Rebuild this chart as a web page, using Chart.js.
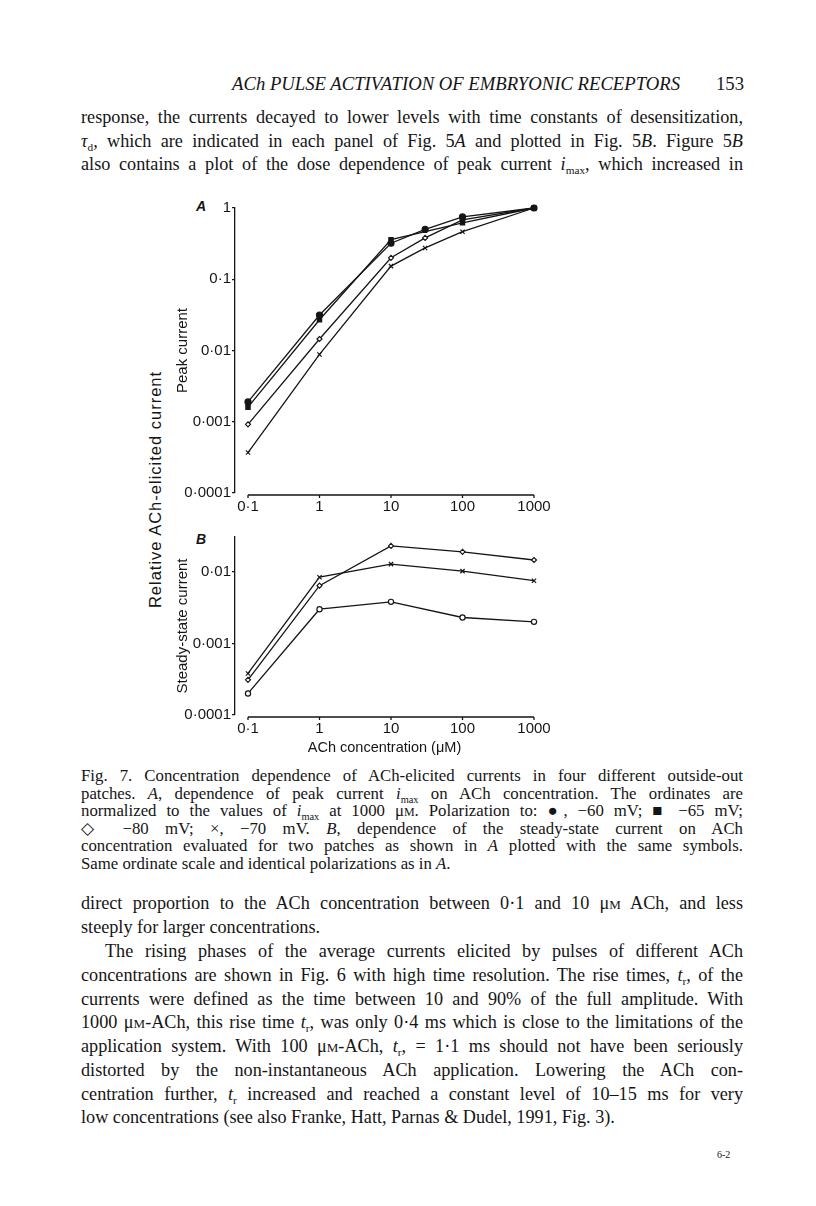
<!DOCTYPE html>
<html>
<head>
<meta charset="utf-8">
<script src="https://cdn.jsdelivr.net/npm/chart.js@4.4.0/dist/chart.umd.min.js"></script>
<style>
  body { margin: 0; background: #fff; }
  #page { position: relative; width: 816px; height: 1206px; overflow: hidden; font-family: "Liberation Serif", serif; color: #151515; }
  .ln { position: absolute; left: 81px; width: 662px; font-size: 18.2px; line-height: 20px; text-align: justify; text-align-last: justify; }
  .cap { font-size: 16.8px; line-height: 18px; }
  .left { text-align-last: left; }
  .ind { left: 105px; width: 638px; }
  sub { font-size: 0.62em; vertical-align: -0.35em; line-height: 0; }
  .sc { font-variant: small-caps; }
  .hd { position: absolute; top: 73px; font-style: italic; font-size: 18.7px; }
  .rot { position: absolute; width: 320px; text-align: center; font-family: "Liberation Sans", sans-serif; font-size: 16.5px; letter-spacing: 1px; transform: rotate(-90deg); white-space: nowrap; }
  .pl { position: absolute; font-family: "Liberation Sans", sans-serif; font-style: italic; font-size: 14px; font-weight: bold; }
  canvas { position: absolute; }
</style>
</head>
<body>
<div id="page">
  <div class="hd" style="left:232px">ACh PULSE ACTIVATION OF EMBRYONIC RECEPTORS</div>
  <div class="hd" style="left:716px;font-style:normal">153</div>

  <div class="ln" style="top:107px">response, the currents decayed to lower levels with time constants of desensitization,</div>
  <div class="ln" style="top:131px"><i>τ</i><sub>d</sub>, which are indicated in each panel of Fig. 5<i>A</i> and plotted in Fig. 5<i>B</i>. Figure 5<i>B</i></div>
  <div class="ln" style="top:154px">also contains a plot of the dose dependence of peak current <i>i</i><sub>max</sub>, which increased in</div>

  <div class="rot" style="left:-5px;top:480px">Relative ACh-elicited current</div>
  <div class="pl" style="left:196px;top:198px">A</div>
  <div class="pl" style="left:196px;top:531px">B</div>

  <canvas id="chartA" width="380" height="328" style="left:170px;top:195px"></canvas>
  <canvas id="chartB" width="380" height="231" style="left:170px;top:529px"></canvas>

  <div class="ln cap" style="top:767px">Fig. 7. Concentration dependence of ACh-elicited currents in four different outside-out</div>
  <div class="ln cap" style="top:785px">patches. <i>A</i>, dependence of peak current <i>i</i><sub>max</sub> on ACh concentration. The ordinates are</div>
  <div class="ln cap" style="top:802px">normalized to the values of <i>i</i><sub>max</sub> at 1000 μ<span class="sc">m</span>. Polarization to: ●, −60 mV; ■ −65 mV;</div>
  <div class="ln cap" style="top:820px">◇ −80 mV; ×, −70 mV. <i>B</i>, dependence of the steady-state current on ACh</div>
  <div class="ln cap" style="top:837px">concentration evaluated for two patches as shown in <i>A</i> plotted with the same symbols.</div>
  <div class="ln cap left" style="top:855px">Same ordinate scale and identical polarizations as in <i>A</i>.</div>

  <div class="ln" style="top:893px">direct proportion to the ACh concentration between 0·1 and 10 μ<span class="sc">m</span> ACh, and less</div>
  <div class="ln left" style="top:917px">steeply for larger concentrations.</div>
  <div class="ln ind" style="top:941px">The rising phases of the average currents elicited by pulses of different ACh</div>
  <div class="ln" style="top:965px">concentrations are shown in Fig. 6 with high time resolution. The rise times, <i>t</i><sub>r</sub>, of the</div>
  <div class="ln" style="top:989px">currents were defined as the time between 10 and 90% of the full amplitude. With</div>
  <div class="ln" style="top:1012px">1000 μ<span class="sc">m</span>-ACh, this rise time <i>t</i><sub>r</sub>, was only 0·4 ms which is close to the limitations of the</div>
  <div class="ln" style="top:1036px">application system. With 100 μ<span class="sc">m</span>-ACh, <i>t</i><sub>r</sub>, = 1·1 ms should not have been seriously</div>
  <div class="ln" style="top:1060px">distorted by the non-instantaneous ACh application. Lowering the ACh con-</div>
  <div class="ln" style="top:1084px">centration further, <i>t</i><sub>r</sub> increased and reached a constant level of 10–15 ms for very</div>
  <div class="ln left" style="top:1107px">low concentrations (see also Franke, Hatt, Parnas &amp; Dudel, 1991, Fig. 3).</div>
  <div style="position:absolute;left:717px;top:1149px;font-size:10px">6-2</div>
</div>

<script>
// concentrations (µM) and tick labels
var concA = [0.1, 1, 10, 30, 100, 1000];
var concB = [0.1, 1, 10, 100, 1000];
var xTicks = [0.1, 1, 10, 100, 1000];
var xTickLabels = ['0·1', '1', '10', '100', '1000'];
var yTicksA = [0.0001, 0.001, 0.01, 0.1, 1];
var yTickLabelsA = ['0·0001', '0·001', '0·01', '0·1', '1'];
var yTicksB = [0.0001, 0.001, 0.01];
var yTickLabelsB = ['0·0001', '0·001', '0·01'];

// A: peak current, normalized to 1000 µM
var peak60 = [0.0019, 0.0315, 0.32, 0.5, 0.75, 1];
var peak65 = [0.0016, 0.027, 0.36, null, 0.62, 1];
var peak80 = [0.00092, 0.0145, 0.2, 0.38, 0.68, 1];
var peak70 = [0.00037, 0.0088, 0.153, 0.275, 0.465, 1];

// B: steady-state current
var steady80 = [0.00031, 0.0064, 0.023, 0.019, 0.0146];
var steady70 = [0.00038, 0.0084, 0.0128, 0.0102, 0.0075];
var steadyO = [0.0002, 0.003, 0.0038, 0.0023, 0.002];

Chart.defaults.font.family = 'Liberation Sans';
Chart.defaults.font.size = 15;
Chart.defaults.color = '#151515';

function pts(xs, ys) {
  return xs.map(function (x, i) { return { x: x, y: ys[i] }; });
}

function series(label, xs, ys, style, filled, r) {
  return {
    label: label,
    data: pts(xs, ys),
    borderColor: '#151515',
    borderWidth: 1.3,
    pointStyle: style,
    pointRadius: r,
    pointBorderWidth: 1.2,
    pointBackgroundColor: filled ? '#151515' : '#fff',
    pointBorderColor: '#151515',
    spanGaps: true,
    clip: false
  };
}

// x axis line only spans 0.1 .. 1000, detached from the y axis
var xAxisLine = {
  id: 'xAxisLine',
  afterDraw: function (chart) {
    var x = chart.scales.x;
    var y0 = chart.chartArea.bottom + 2;
    var c = chart.ctx;
    c.save();
    c.strokeStyle = '#151515';
    c.lineWidth = 1.3;
    c.beginPath();
    c.moveTo(x.getPixelForValue(xTicks[0]), y0);
    c.lineTo(x.getPixelForValue(xTicks[xTicks.length - 1]), y0);
    xTicks.forEach(function (v) {
      var p = x.getPixelForValue(v);
      c.moveTo(p, y0);
      c.lineTo(p, y0 + 3);
    });
    c.stroke();
    c.restore();
  }
};

function makeOptions(yMin, yMax, yTicks, yLabels, yTitle, xTitle, xHeight, padTop) {
  return {
    responsive: false,
    animation: false,
    layout: { padding: { left: 0, right: 16, top: padTop, bottom: 0 } },
    plugins: { legend: { display: false }, tooltip: { enabled: false } },
    scales: {
      x: {
        type: 'logarithmic',
        min: 0.0658,
        max: 1000,
        afterBuildTicks: function (s) { s.ticks = xTicks.map(function (v) { return { value: v }; }); },
        afterFit: function (s) { s.height = xHeight; s.paddingLeft = 0; s.paddingRight = 0; },
        ticks: {
          padding: 5,
          maxRotation: 0,
          autoSkip: false,
          callback: function (v) { return xTickLabels[xTicks.indexOf(v)]; }
        },
        grid: { display: false, drawTicks: false, tickLength: 0 },
        border: { display: false },
        title: { display: !!xTitle, text: xTitle || '', font: { size: 14.5 }, padding: { top: 0, bottom: 3 } }
      },
      y: {
        type: 'logarithmic',
        min: yMin,
        max: yMax,
        afterBuildTicks: function (s) { s.ticks = yTicks.map(function (v) { return { value: v }; }); },
        afterFit: function (s) { s.width = 65; s.paddingTop = 0; s.paddingBottom = 0; },
        ticks: {
          padding: 1,
          autoSkip: false,
          callback: function (v) { return yLabels[yTicks.indexOf(v)]; }
        },
        grid: { display: true, drawOnChartArea: false, tickLength: 3, color: '#151515', lineWidth: 1.2 },
        border: { display: true, color: '#151515', width: 1.3 },
        title: { display: true, text: yTitle, font: { size: 15 }, padding: { top: 4, bottom: 4 } }
      }
    }
  };
}

new Chart(document.getElementById('chartA').getContext('2d'), {
  type: 'line',
  data: {
    datasets: [
      series('−60 mV', concA, peak60, 'circle', true, 3),
      series('−65 mV', concA, peak65, 'rect', true, 3),
      series('−80 mV', concA, peak80, 'rectRot', false, 2.5),
      series('−70 mV', concA, peak70, 'crossRot', false, 3)
    ]
  },
  options: makeOptions(0.0001, 1, yTicksA, yTickLabelsA, 'Peak current', null, 30, 13),
  plugins: [xAxisLine]
});

new Chart(document.getElementById('chartB').getContext('2d'), {
  type: 'line',
  data: {
    datasets: [
      series('−80 mV', concB, steady80, 'rectRot', false, 2.5),
      series('−70 mV', concB, steady70, 'crossRot', false, 3),
      series('○', concB, steadyO, 'circle', false, 2.6)
    ]
  },
  options: makeOptions(0.0001, 0.0306, yTicksB, yTickLabelsB, 'Steady-state current', 'ACh concentration (μM)', 45, 8),
  plugins: [xAxisLine]
});
</script>
</body>
</html>
